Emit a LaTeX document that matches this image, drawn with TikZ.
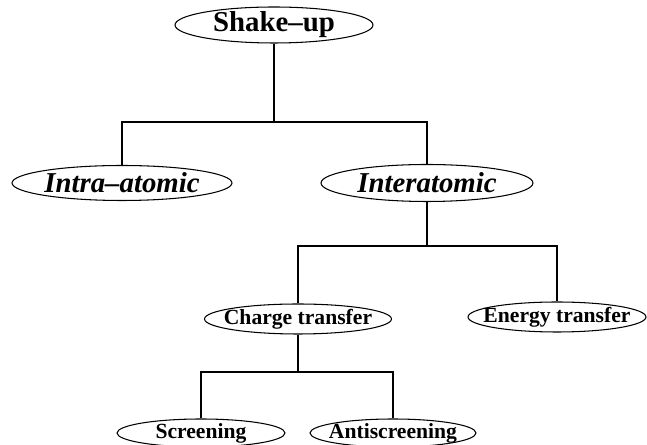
\documentclass[tikz,border=0pt]{standalone}
\usepackage{fontspec}
\setmainfont{Liberation Serif}
\usetikzlibrary{shapes.geometric}
\tikzset{
  bubble/.style={draw, ellipse, line width=0.6pt, inner sep=-3em, font=\bfseries\fontsize{12.3}{14}\selectfont},
  bigbubble/.style={bubble, font=\bfseries\fontsize{16.4}{19}\selectfont},
  link/.style={line width=0.7pt}
}
\begin{document}
\begin{tikzpicture}[x=0.02cm,y=-0.02cm]
\useasboundingbox (0,0) rectangle (647,445);
\node[bigbubble, minimum width=3.96cm, minimum height=0.72cm] (shake) at (274,25) {Shake--up};
\node[bigbubble, minimum width=4.4cm, minimum height=0.7cm] (intra) at (122,183) {\itshape Intra--atomic};
\node[bigbubble, minimum width=4.24cm, minimum height=0.74cm] (inter) at (427,183) {\itshape Interatomic};
\node[bubble, minimum width=3.74cm, minimum height=0.6cm] (charge) at (298,319) {Charge transfer};
\node[bubble, minimum width=3.56cm, minimum height=0.6cm] (energy) at (557,317) {Energy transfer};
\node[bubble, minimum width=3.36cm, minimum height=0.56cm] (screen) at (201,433) {Screening};
\node[bubble, minimum width=3.32cm, minimum height=0.56cm] (anti) at (393,433) {Antiscreening};
\coordinate (bus1) at (0,122);
\coordinate (bus2) at (0,246);
\coordinate (bus3) at (0,372);
\draw[link] (shake) -- (shake |- bus1) -| (intra);
\draw[link] (shake |- bus1) -| (inter);
\draw[link] (inter) -- (inter |- bus2) -| (charge);
\draw[link] (inter |- bus2) -| (energy);
\draw[link] (charge) -- (charge |- bus3) -| (screen);
\draw[link] (charge |- bus3) -| (anti);
\end{tikzpicture}
\end{document}
